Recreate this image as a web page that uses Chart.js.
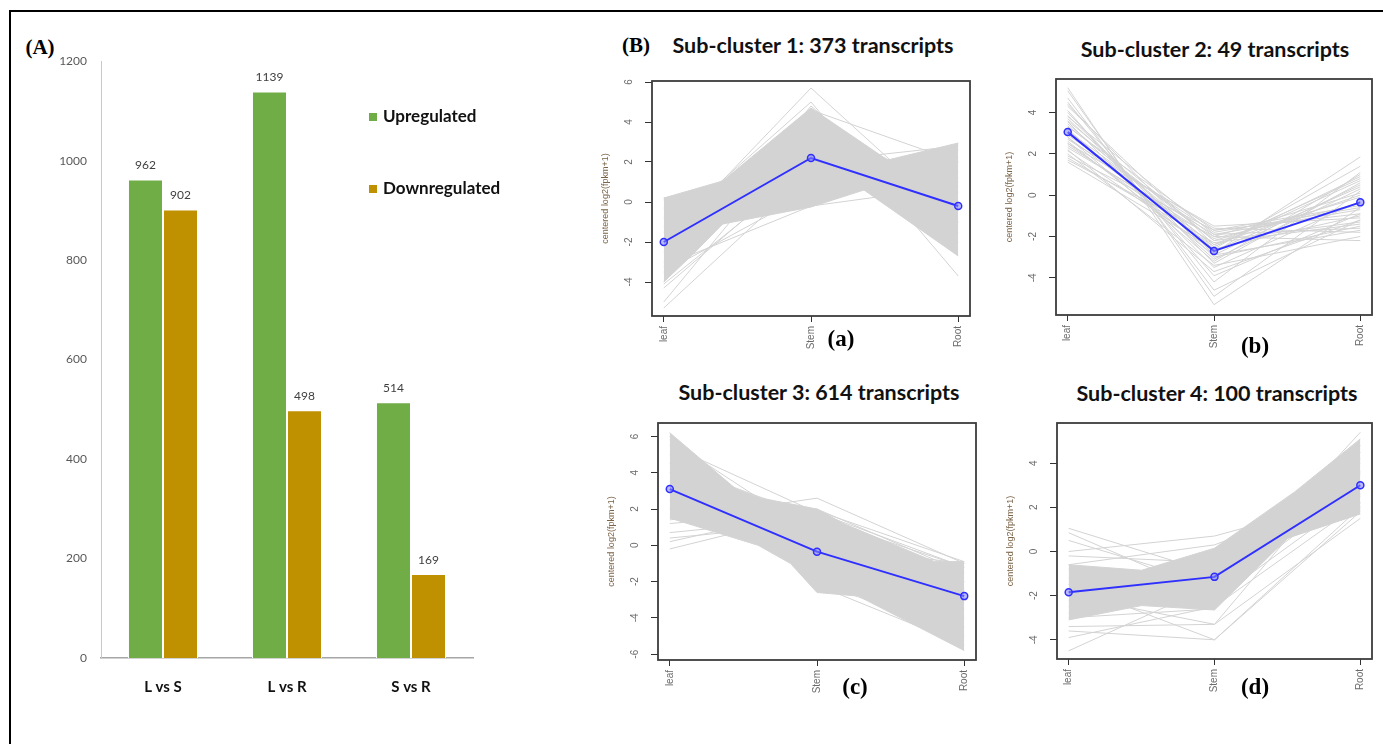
<!DOCTYPE html>
<html>
<head>
<meta charset="utf-8">
<script src="https://cdn.jsdelivr.net/npm/chart.js@4.4.1/dist/chart.umd.min.js"></script>
<style>
  body { margin: 0; background: #fff; width: 1383px; height: 744px; position: relative; overflow: hidden; }
  .frame-top { position: absolute; left: 9px; top: 10px; width: 1374px; height: 2px; background: #000; }
  .frame-left { position: absolute; left: 9px; top: 10px; width: 2px; height: 734px; background: #000; }
  .wrap { position: absolute; }
  .lbl { position: absolute; font-family: "Liberation Serif", serif; font-weight: bold; white-space: nowrap; transform: translate(-50%, -50%); color: #000; }
  .ttl { position: absolute; font-family: Lato, sans-serif; font-weight: bold; font-size: 21.5px; white-space: nowrap; transform: translate(-50%, -50%); color: #111; }
</style>
</head>
<body>
<div class="frame-top"></div>
<div class="frame-left"></div>

<div class="lbl" style="left:40px; top:47px; font-size:21px;">(A)</div>
<div class="lbl" style="left:636px; top:45px; font-size:21px;">(B)</div>

<div class="ttl" style="left:813px; top:45px;">Sub-cluster 1: 373 transcripts</div>
<div class="ttl" style="left:1215px; top:49px;">Sub-cluster 2: 49 transcripts</div>
<div class="ttl" style="left:819px; top:392px;">Sub-cluster 3: 614 transcripts</div>
<div class="ttl" style="left:1217px; top:393px;">Sub-cluster 4: 100 transcripts</div>

<div class="wrap" id="wrapA"><canvas id="barChart"></canvas></div>
<div class="wrap" id="wrap1"><canvas id="c1"></canvas></div>
<div class="wrap" id="wrap2"><canvas id="c2"></canvas></div>
<div class="wrap" id="wrap3"><canvas id="c3"></canvas></div>
<div class="wrap" id="wrap4"><canvas id="c4"></canvas></div>

<div class="lbl" style="left:841px; top:339px; font-size:23px;">(a)</div>
<div class="lbl" style="left:1255px; top:346px; font-size:23px;">(b)</div>
<div class="lbl" style="left:855px; top:687px; font-size:23px;">(c)</div>
<div class="lbl" style="left:1255px; top:687px; font-size:23px;">(d)</div>

<script>
// Panel A: differentially expressed transcripts
const comparisons = ['L vs S', 'L vs R', 'S vs R'];
const upregulated = [962, 1139, 514];
const downregulated = [902, 498, 169];
const countTicks = [0, 200, 400, 600, 800, 1000, 1200];

// Panel B: tissue profiles
const stages = ['leaf', 'Stem', 'Root'];

// sub-cluster 1 (373 transcripts)
const c1Mean = [-2.0, 2.2, -0.2];
const c1Ticks = [-4, -2, 0, 2, 4, 6];
const c1Upper = [[1, 0.2], [1.4, 1.05], [2, 4.7], [2.52, 2.1], [3, 2.95]];
const c1Lower = [[1, -4.0], [1.2, -2.6], [1.4, -1.1], [2, -0.25], [2.36, 0.6], [3, -2.7]];
const c1Lines = [
    [-5.3, 1.5, 1.0], [-5.0, 3.9, 0.5], [-4.3, 2.0, 2.8], [-4.0, 4.8, -1.5],
    [-2.0, 5.7, -1.0], [-1.5, 5.0, -3.7], [0.1, 0.2, 2.9], [0.2, 1.0, 2.6],
    [-0.3, 2.5, 1.5], [-1.2, 3.5, 0.0], [-2.5, 1.0, 2.0], [-3.0, 3.0, -2.0],
    [-3.5, 0.5, 1.2], [-2.0, 4.2, -2.6], [-0.8, 0.0, 2.2], [-4.1, 1.8, -1.0],
    [-1.8, 4.6, 2.0], [-3.2, -0.2, 0.8]
];

// sub-cluster 2 (49 transcripts)
const c2Mean = [3.05, -2.7, -0.35];
const c2Ticks = [-4, -2, 0, 2, 4];
const c2Lines = [
    [5.2, -5.3, -0.6], [5.05, -4.9, 0.2], [4.7, -4.6, -1.2], [4.5, -4.2, 1.1],
    [4.1, -3.9, -0.9], [4.0, -3.3, 0.6], [3.85, -3.0, -1.5], [3.7, -2.8, 1.85],
    [3.55, -3.5, -0.3], [3.45, -2.5, 0.9], [3.35, -2.2, -1.3], [3.2, -3.1, 0.3],
    [3.1, -2.0, -2.2], [3.0, -2.6, 1.4], [2.9, -1.8, -0.6], [2.8, -2.4, 0.0],
    [2.7, -1.6, -1.8], [2.6, -2.9, 0.5], [2.5, -1.5, -1.1], [2.4, -2.1, -0.4],
    [2.3, -1.9, -1.6], [2.15, -2.7, 0.4], [2.0, -3.4, -2.0], [1.9, -1.7, -0.9],
    [1.8, -2.3, -1.4], [1.7, -2.0, 0.1], [1.6, -2.6, -1.0], [3.8, -1.9, -0.7],
    [4.3, -2.4, 0.8], [2.2, -3.7, -1.2], [3.6, -2.2, -0.1], [2.8, -3.2, 1.0],
    [3.3, -1.7, -0.5], [4.4, -2.9, -1.7], [2.5, -2.5, 0.7]
];

// sub-cluster 3 (614 transcripts)
const c3Mean = [3.1, -0.35, -2.8];
const c3Ticks = [-6, -4, -2, 0, 2, 4, 6];
const c3Upper = [[1, 6.2], [1.45, 3.1], [1.62, 2.6], [2, 2.0], [2.18, 1.2], [2.8, -0.9], [3, -0.9]];
const c3Lower = [[1, 1.5], [1.6, 0.0], [1.82, -1.0], [2, -2.6], [2.28, -2.8], [3, -5.8]];
const c3Lines = [
    [1.4, 2.6, -1.0], [1.2, 1.9, -0.9], [0.7, 1.5, -1.2], [0.4, 1.2, -2.5],
    [0.2, 2.0, -1.5], [-0.2, 1.8, -2.0], [6.2, -2.5, -3.0], [5.8, 0.5, -4.5],
    [5.0, -1.0, -2.0], [4.5, 1.5, -3.5], [6.0, -2.2, -5.5], [3.5, 0.0, -1.0],
    [4.0, -2.0, -5.0], [2.5, 1.0, -3.0], [5.5, 1.8, -1.2], [3.0, -1.5, -2.4],
    [2.0, -0.5, -4.0]
];

// sub-cluster 4 (100 transcripts)
const c4Mean = [-1.85, -1.15, 3.0];
const c4Ticks = [-4, -2, 0, 2, 4];
const c4Upper = [[1, -0.6], [1.5, -0.85], [2, 0.15], [2.55, 2.7], [3, 5.1]];
const c4Lower = [[1, -3.1], [1.5, -2.45], [2, -2.65], [2.5, 0.6], [3, 1.7]];
const c4Lines = [
    [1.05, -1.0, 2.2], [0.85, -2.0, 3.0], [0.5, -1.5, 4.0], [0.0, 0.7, 2.5],
    [-0.2, -0.5, 1.9], [-0.6, 0.3, 2.8], [-4.5, -1.5, 3.5], [-3.9, -2.5, 2.2],
    [-3.6, -4.0, 1.8], [-3.4, -3.3, 4.5], [-2.0, -3.3, 1.5], [-1.5, -4.0, 2.0],
    [-2.5, -1.8, 5.4], [-1.2, -2.4, 4.8], [-2.8, 0.0, 3.2], [-1.8, -0.8, 2.0],
    [-3.0, -2.6, 4.2], [-0.8, -1.2, 3.6], [-2.2, -2.2, 2.6]
];

const greenColor = '#70ad47';
const goldColor = '#bf9000';
const meanColor = '#2f2fff';
const traceColor = '#d3d3d3';

function placeWrap(id, left, top, width, height) {
    const wrap = document.getElementById(id);
    wrap.style.left = left + 'px';
    wrap.style.top = top + 'px';
    wrap.style.width = width + 'px';
    wrap.style.height = height + 'px';
    const canvas = wrap.querySelector('canvas');
    canvas.width = width;
    canvas.height = height;
    canvas.style.width = width + 'px';
    canvas.style.height = height + 'px';
    return canvas;
}

// value labels over the bars
const barValueLabels = {
    id: 'barValueLabels',
    afterDatasetsDraw(chart) {
        const ctx = chart.ctx;
        ctx.save();
        ctx.font = '12px Lato';
        ctx.fillStyle = '#404040';
        ctx.textAlign = 'center';
        ctx.textBaseline = 'middle';
        chart.data.datasets.forEach((ds, i) => {
            chart.getDatasetMeta(i).data.forEach((bar, j) => {
                ctx.fillText(ds.data[j], bar.x, bar.y - 14);
            });
        });
        ctx.restore();
    }
};

// legend stacked on the right like the original
const sideLegend = {
    id: 'sideLegend',
    afterDraw(chart, args, opts) {
        const ctx = chart.ctx;
        ctx.save();
        ctx.font = 'bold 17px Lato';
        ctx.textBaseline = 'middle';
        chart.data.datasets.forEach((ds, i) => {
            const y = opts.y + i * opts.gap;
            ctx.fillStyle = ds.backgroundColor;
            ctx.fillRect(opts.x, y - 4, 8, 8);
            ctx.fillStyle = '#111';
            ctx.fillText(ds.label, opts.x + 14, y);
        });
        ctx.restore();
    }
};

function initializeBarChart() {
    const canvas = placeWrap('wrapA', 20, 40, 560, 680);
    new Chart(canvas.getContext('2d'), {
        type: 'bar',
        data: {
            labels: comparisons,
            datasets: [
                { label: 'Upregulated', data: upregulated, backgroundColor: greenColor, borderColor: '#ffffff', borderWidth: 1, borderSkipped: 'bottom' },
                { label: 'Downregulated', data: downregulated, backgroundColor: goldColor, borderColor: '#ffffff', borderWidth: 1, borderSkipped: 'bottom' }
            ]
        },
        options: {
            responsive: false,
            animation: false,
            events: [],
            layout: { padding: { top: 21, right: 107, left: 0, bottom: 0 } },
            datasets: { bar: { categoryPercentage: 0.565, barPercentage: 1.0 } },
            plugins: {
                legend: { display: false },
                tooltip: { enabled: false },
                sideLegend: { x: 349, y: 77, gap: 72 }
            },
            scales: {
                x: {
                    grid: { display: false, drawTicks: false },
                    border: { color: '#a6a6a6', width: 1.5 },
                    afterFit: s => { s.height = 62; },
                    ticks: { padding: 20, color: '#111', font: { family: 'Lato', size: 15, weight: 'bold' } }
                },
                y: {
                    min: 0,
                    max: 1200,
                    afterBuildTicks: s => { s.ticks = countTicks.map(v => ({ value: v })); },
                    afterFit: s => { s.width = 81; },
                    grid: { display: false, drawTicks: false },
                    border: { color: '#c8c8c8', width: 1 },
                    ticks: { callback: v => String(v), padding: 14, color: '#595959', font: { family: 'Lato', size: 12 } }
                }
            }
        },
        plugins: [barValueLabels, sideLegend]
    });
}

// frame around the plotting region, R style
const plotFrame = {
    id: 'plotFrame',
    afterDraw(chart) {
        const { ctx, chartArea: a } = chart;
        ctx.save();
        ctx.strokeStyle = '#3c3c3c';
        ctx.lineWidth = 1.8;
        ctx.strokeRect(a.left, a.top, a.right - a.left, a.bottom - a.top);
        ctx.restore();
    }
};

function toPoints(values) {
    return values.map((v, i) => ({ x: i + 1, y: v }));
}

function initializeClusterChart(wrapId, box, yMin, yMax, yTicks, lines, mean, upper, lower) {
    const padL = 60, padT = 6, padR = 6, padB = 46;
    const canvas = placeWrap(wrapId, box.left - padL, box.top - padT,
        box.right - box.left + padL + padR, box.bottom - box.top + padT + padB);

    const datasets = [{
        data: toPoints(mean),
        borderColor: meanColor,
        borderWidth: 2,
        pointRadius: 3.5,
        pointBorderColor: meanColor,
        pointBackgroundColor: 'rgba(130,130,255,0.55)',
        pointBorderWidth: 1.5,
        order: 0
    }];
    lines.forEach(l => datasets.push({
        data: toPoints(l),
        borderColor: traceColor,
        borderWidth: 1,
        pointRadius: 0,
        order: 1
    }));
    if (upper) {
        datasets.push({
            data: lower.map(p => ({ x: p[0], y: p[1] })),
            borderColor: traceColor, borderWidth: 1, pointRadius: 0, fill: false, order: 2
        });
        datasets.push({
            data: upper.map(p => ({ x: p[0], y: p[1] })),
            borderColor: traceColor, borderWidth: 1, pointRadius: 0,
            fill: '-1', backgroundColor: traceColor, order: 2
        });
    }

    const axisFont = { family: 'Liberation Sans', size: 10 };
    new Chart(canvas.getContext('2d'), {
        type: 'line',
        data: { datasets },
        options: {
            responsive: false,
            animation: false,
            events: [],
            layout: { padding: { top: padT, right: padR, left: 0, bottom: 0 } },
            plugins: { legend: { display: false }, tooltip: { enabled: false } },
            scales: {
                x: {
                    type: 'linear',
                    min: 0.92,
                    max: 3.08,
                    afterBuildTicks: s => { s.ticks = stages.map((t, i) => ({ value: i + 1 })); },
                    afterFit: s => { s.height = padB; },
                    ticks: {
                        callback: v => stages[v - 1],
                        autoSkip: false, minRotation: 90, maxRotation: 90,
                        padding: 4, color: '#6a6a6a', font: axisFont
                    },
                    grid: { drawOnChartArea: false, tickLength: 6, color: '#333' },
                    border: { display: false }
                },
                y: {
                    min: yMin,
                    max: yMax,
                    afterBuildTicks: s => { s.ticks = yTicks.map(v => ({ value: v })); },
                    afterFit: s => { s.width = padL; },
                    ticks: {
                        minRotation: 90, maxRotation: 90, crossAlign: 'center',
                        padding: 11, color: '#6a6a6a', font: axisFont
                    },
                    grid: { drawOnChartArea: false, tickLength: 7, color: '#333' },
                    border: { display: false },
                    title: {
                        display: true,
                        text: 'centered log2(fpkm+1)',
                        color: '#7a6347',
                        font: { family: 'Liberation Sans', size: 9 },
                        padding: { top: 8, bottom: 0 }
                    }
                }
            }
        },
        plugins: [plotFrame]
    });
}

initializeBarChart();
initializeClusterChart('wrap1', { left: 652, right: 970, top: 70, bottom: 316 }, -5.7, 6.05, c1Ticks, c1Lines, c1Mean, c1Upper, c1Lower);
initializeClusterChart('wrap2', { left: 1056, right: 1372, top: 68, bottom: 315 }, -5.8, 5.62, c2Ticks, c2Lines, c2Mean, null, null);
initializeClusterChart('wrap3', { left: 658, right: 976, top: 412, bottom: 660 }, -6.32, 6.74, c3Ticks, c3Lines, c3Mean, c3Upper, c3Lower);
initializeClusterChart('wrap4', { left: 1057, right: 1372, top: 412, bottom: 659 }, -4.87, 5.82, c4Ticks, c4Lines, c4Mean, c4Upper, c4Lower);
</script>
</body>
</html>
